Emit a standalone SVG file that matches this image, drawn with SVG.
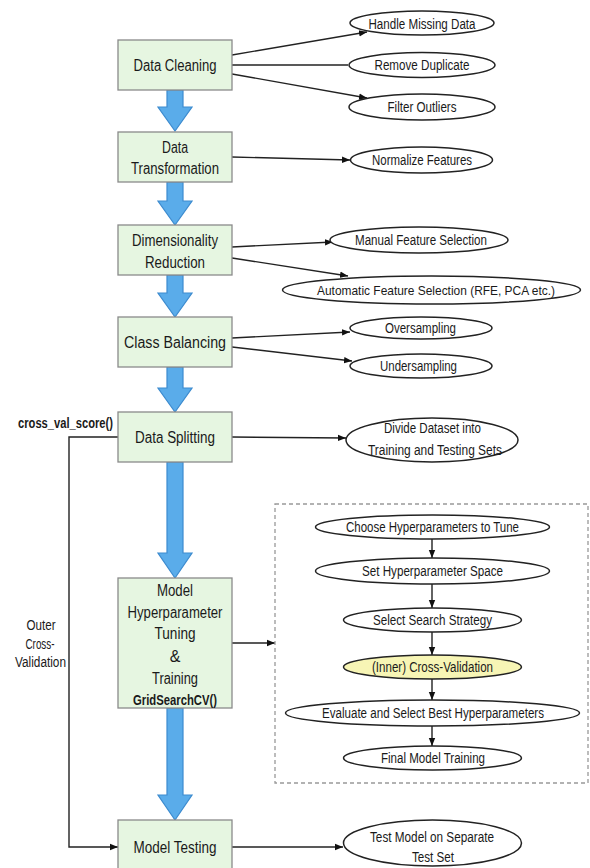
<svg xmlns="http://www.w3.org/2000/svg" width="590" height="868" viewBox="0 0 590 868">
<defs>
<marker id="ah" viewBox="0 0 10 10" refX="10" refY="5" markerWidth="8" markerHeight="8" markerUnits="userSpaceOnUse" orient="auto">
<path d="M0,1 L10,5 L0,9 Z" fill="#111"/>
</marker>
<style>
.box{fill:#e6f6e1;stroke:#8a8a8a;stroke-width:1.3}
.ell{fill:#fff;stroke:#222;stroke-width:1.5}
.yel{fill:#f7f5b5;stroke:#222;stroke-width:1.5}
.blk{fill:#5aacea;stroke:#3c8bcf;stroke-width:1.2}
.ln{fill:none;stroke:#222;stroke-width:1.4}
.lm{fill:none;stroke:#222;stroke-width:1.4;marker-end:url(#ah)}
.dash{fill:none;stroke:#999;stroke-width:1.3;stroke-dasharray:4 3}
text{font-family:"Liberation Sans Narrow","Liberation Sans",Arial,sans-serif;fill:#1a1a1a;text-anchor:middle}
.t16{font-size:16px}
.t14{font-size:14px}
.t13{font-size:13px}
.b14{font-size:14px;font-weight:bold}
</style>
</defs>
<rect width="590" height="868" fill="#fff"/>

<g id="connectors">
<path class="blk" d="M167,90 V107 H158 L175,131 L192,107 H183 V90 Z"/>
<path class="blk" d="M167,182 V201 H158 L175,225 L192,201 H183 V182 Z"/>
<path class="blk" d="M167,275 V293 H158 L175,317 L192,293 H183 V275 Z"/>
<path class="blk" d="M167,367 V388 H158 L175,412 L192,388 H183 V367 Z"/>
<path class="blk" d="M167,462 V553 H158 L175,578 L192,553 H183 V462 Z"/>
<path class="blk" d="M167,708 V795 H158 L175,820 L192,795 H183 V708 Z"/>
<line class="lm" x1="232" y1="55" x2="367" y2="32"/>
<line class="ln" x1="232" y1="65" x2="348" y2="65"/>
<line class="lm" x1="232" y1="74" x2="367" y2="98"/>
<line class="lm" x1="232" y1="157" x2="350" y2="160"/>
<line class="lm" x1="232" y1="247" x2="333" y2="242"/>
<line class="lm" x1="232" y1="258" x2="348" y2="276"/>
<line class="lm" x1="232" y1="338" x2="350" y2="332"/>
<line class="lm" x1="232" y1="347" x2="352" y2="361"/>
<line class="lm" x1="232" y1="437" x2="346" y2="438"/>
<path class="lm" d="M118,437 H69 V847 H118"/>
<line class="lm" x1="232" y1="643" x2="275" y2="643"/>
<line class="lm" x1="232" y1="847" x2="343" y2="847"/>
<line class="lm" x1="432" y1="539" x2="432" y2="558"/>
<line class="lm" x1="432" y1="584" x2="432" y2="608"/>
<line class="lm" x1="432" y1="632" x2="432" y2="655"/>
<line class="lm" x1="432" y1="679" x2="432" y2="700"/>
<line class="lm" x1="432" y1="726" x2="432" y2="746"/>
</g>

<g id="data-cleaning"><rect class="box" x="118" y="40" width="114" height="50"/><text class="t16" x="175" y="71" textLength="83" lengthAdjust="spacingAndGlyphs">Data Cleaning</text></g>
<g id="data-transformation"><rect class="box" x="118" y="132" width="114" height="50"/><text class="t16" x="175" y="152.5" textLength="26" lengthAdjust="spacingAndGlyphs">Data</text><text class="t16" x="175" y="173.5" textLength="88" lengthAdjust="spacingAndGlyphs">Transformation</text></g>
<g id="dimensionality-reduction"><rect class="box" x="118" y="225" width="114" height="50"/><text class="t16" x="175" y="245.5" textLength="86" lengthAdjust="spacingAndGlyphs">Dimensionality</text><text class="t16" x="175" y="267.5" textLength="60" lengthAdjust="spacingAndGlyphs">Reduction</text></g>
<g id="class-balancing"><rect class="box" x="118" y="317" width="114" height="50"/><text class="t16" x="175" y="348" textLength="102" lengthAdjust="spacingAndGlyphs">Class Balancing</text></g>
<g id="data-splitting"><rect class="box" x="118" y="412" width="114" height="50"/><text class="t16" x="175" y="443" textLength="80" lengthAdjust="spacingAndGlyphs">Data Splitting</text></g>
<g id="model-tuning"><rect class="box" x="118" y="578" width="114" height="130"/>
<text class="t16" x="175" y="595.5" textLength="36" lengthAdjust="spacingAndGlyphs">Model</text>
<text class="t16" x="175" y="617.5" textLength="95" lengthAdjust="spacingAndGlyphs">Hyperparameter</text>
<text class="t16" x="175" y="639" textLength="41" lengthAdjust="spacingAndGlyphs">Tuning</text>
<text class="t16" x="175" y="661.5">&amp;</text>
<text class="t16" x="175" y="683.5" textLength="46" lengthAdjust="spacingAndGlyphs">Training</text>
<text class="b14" x="175" y="705" textLength="84" lengthAdjust="spacingAndGlyphs">GridSearchCV()</text></g>
<g id="model-testing"><rect class="box" x="118" y="820" width="114" height="60"/><text class="t16" x="175" y="852.5" textLength="83" lengthAdjust="spacingAndGlyphs">Model Testing</text></g>

<g id="cross-val-score-label"><text class="b14" x="65.5" y="428" textLength="95" lengthAdjust="spacingAndGlyphs">cross_val_score()</text></g>
<g id="outer-cv-label"><text class="t14" x="41" y="630" textLength="29" lengthAdjust="spacingAndGlyphs">Outer</text><text class="t14" x="40" y="649" textLength="29" lengthAdjust="spacingAndGlyphs">Cross-</text><text class="t14" x="40.5" y="667" textLength="51" lengthAdjust="spacingAndGlyphs">Validation</text></g>

<g id="handle-missing"><ellipse class="ell" cx="422" cy="23" rx="72" ry="12"/><text class="t14" x="422" y="28.5" textLength="107" lengthAdjust="spacingAndGlyphs">Handle Missing Data</text></g>
<g id="remove-duplicate"><ellipse class="ell" cx="422" cy="65" rx="73" ry="12.5"/><text class="t14" x="422" y="70" textLength="95" lengthAdjust="spacingAndGlyphs">Remove Duplicate</text></g>
<g id="filter-outliers"><ellipse class="ell" cx="422" cy="107" rx="73" ry="13"/><text class="t14" x="422" y="112" textLength="69" lengthAdjust="spacingAndGlyphs">Filter Outliers</text></g>
<g id="normalize-features"><ellipse class="ell" cx="421.5" cy="160" rx="71" ry="13"/><text class="t14" x="422" y="165" textLength="100" lengthAdjust="spacingAndGlyphs">Normalize Features</text></g>
<g id="manual-selection"><ellipse class="ell" cx="419" cy="240" rx="89" ry="13"/><text class="t14" x="421" y="245" textLength="132" lengthAdjust="spacingAndGlyphs">Manual Feature Selection</text></g>
<g id="automatic-selection"><ellipse class="ell" cx="431.5" cy="290" rx="149" ry="14"/><text class="t13" x="436" y="294.5" textLength="238" lengthAdjust="spacingAndGlyphs">Automatic Feature Selection (RFE, PCA etc.)</text></g>
<g id="oversampling"><ellipse class="ell" cx="421" cy="328" rx="71" ry="11"/><text class="t14" x="420.5" y="333" textLength="71" lengthAdjust="spacingAndGlyphs">Oversampling</text></g>
<g id="undersampling"><ellipse class="ell" cx="421" cy="366" rx="71" ry="12"/><text class="t14" x="418.5" y="371" textLength="77" lengthAdjust="spacingAndGlyphs">Undersampling</text></g>
<g id="divide-dataset"><ellipse class="ell" cx="432" cy="440" rx="86" ry="22"/><text class="t14" x="432.5" y="433" textLength="97" lengthAdjust="spacingAndGlyphs">Divide Dataset into</text><text class="t14" x="435" y="455" textLength="134" lengthAdjust="spacingAndGlyphs">Training and Testing Sets</text></g>

<g id="tuning-group"><rect class="dash" x="275" y="504" width="313" height="279"/></g>
<g id="choose-hyperparameters"><ellipse class="ell" cx="432.5" cy="527" rx="117" ry="12"/><text class="t14" x="432.5" y="532" textLength="173" lengthAdjust="spacingAndGlyphs">Choose Hyperparameters to Tune</text></g>
<g id="set-space"><ellipse class="ell" cx="432.5" cy="571" rx="117" ry="13"/><text class="t14" x="432.5" y="576" textLength="141" lengthAdjust="spacingAndGlyphs">Set Hyperparameter Space</text></g>
<g id="select-strategy"><ellipse class="ell" cx="432.5" cy="620" rx="89" ry="12"/><text class="t14" x="432.5" y="625" textLength="119" lengthAdjust="spacingAndGlyphs">Select Search Strategy</text></g>
<g id="inner-cv"><ellipse class="yel" cx="432.5" cy="667" rx="89" ry="12"/><text class="t14" x="432.5" y="672" textLength="121" lengthAdjust="spacingAndGlyphs">(Inner) Cross-Validation</text></g>
<g id="evaluate-select"><ellipse class="ell" cx="432.5" cy="713" rx="147" ry="13"/><text class="t14" x="433" y="718" textLength="222" lengthAdjust="spacingAndGlyphs">Evaluate and Select Best Hyperparameters</text></g>
<g id="final-training"><ellipse class="ell" cx="432.5" cy="758" rx="89" ry="12"/><text class="t14" x="433" y="763" textLength="104" lengthAdjust="spacingAndGlyphs">Final Model Training</text></g>
<g id="test-model"><ellipse class="ell" cx="432.5" cy="843" rx="89" ry="23"/><text class="t14" x="432" y="842" textLength="124" lengthAdjust="spacingAndGlyphs">Test Model on Separate</text><text class="t14" x="433" y="862" textLength="42" lengthAdjust="spacingAndGlyphs">Test Set</text></g>
</svg>
